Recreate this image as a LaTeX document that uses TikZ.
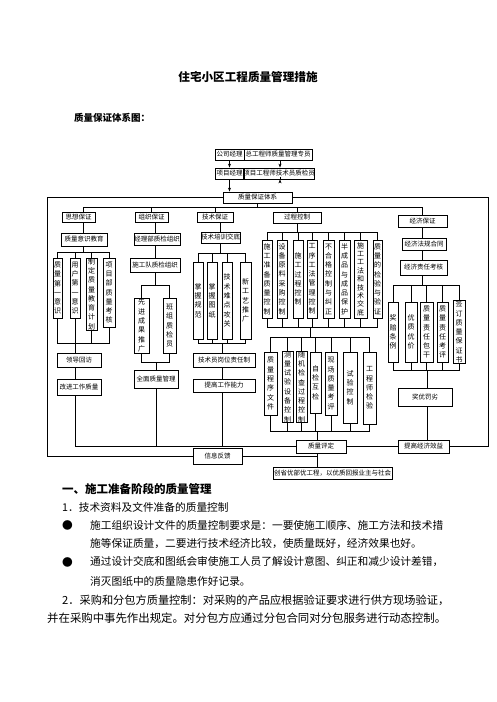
\documentclass[tikz,border=0pt]{standalone}
\usepackage{fontspec}
\setmainfont{Noto Sans CJK SC}
\usetikzlibrary{arrows.meta}
\def\vstack#1{\vstackA#1\relax}
\def\vstackA#1{\ifx#1\relax\else#1\par\expandafter\vstackA\fi}
\tikzset{
  bx/.style={draw, line width=0.8pt, inner sep=0pt, font=\fontsize{6.5}{7}\selectfont},
  vbx/.style={bx, text width=8pt, align=center, font=\fontsize{7}{9.3}\selectfont},
  ln/.style={line width=0.8pt},
  arr/.style={ln, -{Stealth[length=4pt,width=3pt]}},
  txt/.style={anchor=west, inner sep=0pt}
}
\newcommand\hb[6]{\node[bx,minimum width={(#4-#2)*1pt},minimum height={(#5-#3)*1pt}] (#1) at ({(#2+#4)/2},{(#3+#5)/2}) {#6};}
\newcommand\vb[6]{\node[vbx,minimum width={(#4-#2)*1pt},minimum height={(#5-#3)*1pt}] (#1) at ({(#2+#4)/2},{(#3+#5)/2}) {\vstack{#6}};}
\begin{document}
\begin{tikzpicture}[x=1pt,y=-1pt]
\fill[white] (0,0) rectangle (496,702);
\useasboundingbox (0,0) rectangle (496,702);
% titles
\node[inner sep=0pt] (title) at (248,77) {\fontsize{11.6}{12}\selectfont\bfseries 住宅小区工程质量管理措施};
\node[txt] (sub) at (74,118) {\fontsize{9.5}{10}\selectfont\bfseries 质量保证体系图：};
% top boxes
\hb{n1}{215}{149}{244}{160}{公司经理}
\hb{n2}{244}{149}{312}{160}{总工程师质量管理专员}
\hb{n3}{215}{168}{244}{179}{项目经理}
\hb{n4}{244}{168}{314}{179}{项目工程师技术员质检员}
\hb{n5}{223}{192}{292}{203}{质量保证体系}
\draw[arr] (n1.south) -- (n3.north);
\draw[arr] (n2.south -| 280,0) -- (n4.north -| 280,0);
\draw[arr] (n3.south) -- (n3.south |- n5.north);
\draw[arr] (n4.south -| 280,0) -- (n4.south -| 280,0 |- n5.north);
% named levels
\coordinate (b0) at (0,207);
% headers
\hb{h1}{62}{212}{95}{222}{思想保证}
\hb{h2}{135}{212}{168}{222}{组织保证}
\hb{h3}{197}{212}{233}{222}{技术保证}
\hb{h4}{273}{212}{321}{223}{过程控制}
\hb{h5}{398}{215}{447}{227}{经济保证}
\draw[ln] (n5.south) -- (n5.south |- b0);
\draw[ln] (h1.north -| 83,0) -- (83,207) -- (422,207) -- (h5.north -| 422,0);
\draw[ln] (h2.north) -- (h2.north |- b0);
\draw[ln] (h3.north) -- (h3.north |- b0);
\draw[ln] (h4.north) -- (h4.north |- b0);
% column 1
\hb{e1}{61}{233}{107}{246}{质量意识教育}
\draw[ln] (h1.south -| 83,0) -- (e1.north -| 83,0);
\vb{a1}{53}{258}{62}{318}{质量第一意识}
\vb{a2}{70}{258}{80}{318}{用户第一意识}
\vb{a3}{86}{258}{97}{330}{制定质量教育计划}
\vb{a4}{103}{258}{115}{327}{项目部质量考核}
\coordinate (b1) at (0,252);
\coordinate (b2) at (0,343);
\draw[ln] (e1.south -| 83,0) -- (83,252);
\draw[ln] (a1.north) |- (a4.north |- b1) -- (a4.north);
\draw[ln] (a2.north) -- (a2.north |- b1);
\draw[ln] (a3.north) -- (a3.north |- b1);
\draw[ln] (a1.south) |- (a4.south |- b2) -- (a4.south);
\draw[ln] (a2.south) -- (a2.south |- b2);
\draw[ln] (a3.south) -- (a3.south |- b2);
\hb{f1}{57}{353}{101}{367}{领导回访}
\hb{g1}{57}{379}{101}{395}{改进工作质量}
\draw[ln] (f1.north -| 75,0) -- (75,343);
\draw[ln] (f1.south -| 75,0) -- (g1.north -| 75,0);
% column 2
\hb{e2}{134}{233}{180}{245}{经理部质检组织}
\hb{e2b}{130}{258}{180}{272}{施工队质检组织}
\draw[ln] (h2.south -| 155,0) -- (e2.north -| 155,0);
\draw[ln] (e2.south -| 155,0) -- (e2b.north -| 155,0);
\vb{c1}{134}{298}{149}{353}{先进成果推广}
\vb{c2}{163}{298}{176}{353}{班组质检员}
\coordinate (b3) at (0,285);
\coordinate (b4) at (0,362);
\draw[ln] (e2b.south -| 155,0) -- (155,285);
\draw[ln] (c1.north) |- (c2.north |- b3) -- (c2.north);
\draw[ln] (c1.south) |- (c2.south |- b4) -- (c2.south);
\hb{f2}{134}{370}{178}{388}{全面质量管理}
\draw[ln] (156,362) -- (f2.north -| 156,0);
% column 3
\hb{e3}{201}{232}{240}{243}{技术培训交底}
\draw[ln] (h3.south -| 220,0) -- (e3.north -| 220,0);
\vb{d1}{193}{262}{203}{339}{掌握规范}
\vb{d2}{207}{262}{217}{339}{掌握图纸}
\vb{d3}{222}{262}{232}{339}{技术难点攻关}
\vb{d4}{240}{262}{251}{339}{新工艺推广}
\coordinate (b5) at (0,253);
\coordinate (b6) at (0,343);
\draw[ln] (e3.south -| 220,0) -- (220,253);
\draw[ln] (d1.north) |- (d4.north |- b5) -- (d4.north);
\draw[ln] (d2.north) -- (d2.north |- b5);
\draw[ln] (d3.north) -- (d3.north |- b5);
\draw[ln] (d1.south) |- (d4.south |- b6) -- (d4.south);
\draw[ln] (d2.south) -- (d2.south |- b6);
\draw[ln] (d3.south) -- (d3.south |- b6);
\hb{f3}{193}{353}{255}{367}{技术员岗位责任制}
\hb{g3}{193}{379}{255}{392}{提高工作能力}
\draw[ln] (222,343) -- (f3.north -| 222,0);
\draw[ln] (f3.south -| 222,0) -- (g3.north -| 222,0);
% column 4
\coordinate (b7) at (0,232);
\coordinate (b8) at (0,327);
\coordinate (b9) at (0,337);
\coordinate (b10) at (0,431);
\vb{p1}{262}{240}{272}{318}{施工准备质量控制}
\vb{p2}{277}{240}{287}{318}{设备原料采购控制}
\vb{p3}{293}{240}{303}{318}{施工过程控制}
\vb{p4}{307}{240}{317}{318}{工序工法管理控制}
\vb{p5}{323}{240}{334}{318}{不合格控制与纠正}
\vb{p6}{339}{240}{350}{318}{半成品与成品保护}
\node[vbx,minimum width=13pt,minimum height=78pt,font=\fontsize{7}{8.4}\selectfont] (p7) at (360.5,279) {\vstack{施工工法和技术交底}};
\vb{p8}{373}{240}{382}{318}{质量的检验与验证}
\draw[ln] (h4.south) -- (h4.south |- b7);
\draw[ln] (p1.north) |- (p8.north |- b7) -- (p8.north);
\foreach \n in {p2,p3,p4,p5,p6,p7} \draw[ln] (\n.north) -- (\n.north |- b7);
\draw[ln] (p1.south) |- (p8.south |- b8) -- (p8.south);
\foreach \n in {p2,p3,p4,p5,p6,p7} \draw[ln] (\n.south) -- (\n.south |- b8);
\vb{q1}{264}{352}{277}{415}{质量程序文件}
\vb{q2}{282}{352}{293}{422}{测量试验设备控制}
\vb{q3}{296}{352}{307}{422}{随机检查过程控制}
\vb{q4}{310}{352}{321}{413}{自检互检}
\vb{q5}{325}{352}{337}{415}{现场质量考评}
\vb{q6}{343}{352}{357}{423}{试验控制}
\vb{q7}{363}{352}{376}{424}{工程师检验}
\draw[ln] (310,327) -- (310,337);
\draw[ln] (q1.north) |- (q7.north |- b9) -- (q7.north);
\foreach \n in {q2,q3,q4,q5,q6} \draw[ln] (\n.north) -- (\n.north |- b9);
\draw[ln] (q1.south) |- (q7.south |- b10) -- (q7.south);
\foreach \n in {q2,q3,q4,q5,q6} \draw[ln] (\n.south) -- (\n.south |- b10);
% column 5
\hb{e5}{402}{238}{446}{250}{经济法规合同}
\hb{e5b}{400}{260}{447}{275}{经济责任考核}
\draw[ln] (h5.south -| 422,0) -- (e5.north -| 422,0);
\draw[ln] (e5.south -| 422,0) -- (e5b.north -| 422,0);
\coordinate (b11) at (0,285);
\coordinate (b12) at (0,370);
\vb{r1}{388}{302}{398}{362}{奖赔条例}
\vb{r2}{405}{302}{417}{362}{优质优价}
\vb{r3}{420}{302}{433}{362}{质量责任包干}
\vb{r4}{437}{302}{448}{362}{质量责任考评}
\vb{r5}{453}{302}{465}{362}{签订质量保证书}
\draw[ln] (e5b.south -| 422,0) -- (422,285);
\draw[ln] (r1.north) |- (r5.north |- b11) -- (r5.north);
\foreach \n in {r2,r3,r4} \draw[ln] (\n.north) -- (\n.north |- b11);
\draw[ln] (r1.south) |- (r5.south |- b12) -- (r5.south);
\foreach \n in {r2,r3,r4} \draw[ln] (\n.south) -- (\n.south |- b12);
\hb{s5}{398}{388}{452}{406}{奖优罚劣}
\draw[ln] (427,370) -- (s5.north -| 427,0);
% bottom
\hb{z1}{296}{440}{346}{453}{质量评定}
\hb{z2}{398}{440}{449}{453}{提高经济效益}
\hb{z3}{193}{448}{242}{464}{信息反馈}
\hb{z4}{273}{467}{392}{479}{创省优部优工程，以优质回报业主与社会}
\draw[ln] (317,431) -- (z1.north -| 317,0);
\draw[ln] (z1.south -| 317,0) -- (z4.north -| 317,0);
\draw[ln] (z3.east) -- (z3.east -| 317,0);
\draw[ln] (z1.east) -- (z2.west);
\draw[ln] (s5.south -| 427,0) -- (z2.north -| 427,0);
\draw[ln] (g1.south -| 75,0) |- (z1.west);
\draw[ln] (f2.south -| 156,0) -- (156,446.5);
\draw[ln] (g3.south -| 222,0) -- (222,446.5);
% frame
\draw[ln] (n5.west) -- (47,197.5) |- (z3.west);
\draw[ln] (n5.east) -- (488,197.5) |- (z2.east);
% body text
\node[txt] (t1) at (62,489) {\fontsize{11.5}{12}\selectfont\bfseries 一、施工准备阶段的质量管理};
\node[txt] (t2) at (62,507) {\fontsize{10.7}{12}\selectfont 1．技术资料及文件准备的质量控制};
\node[txt] (t3b) at (62,525) {\fontsize{10.7}{12}\selectfont ●};
\node[txt] (t3) at (90,525) {\fontsize{10.7}{12}\selectfont 施工组织设计文件的质量控制要求是：一要使施工顺序、施工方法和技术措};
\node[txt] (t4) at (90,544) {\fontsize{10.7}{12}\selectfont 施等保证质量，二要进行技术经济比较，使质量既好，经济效果也好。};
\node[txt] (t5b) at (62,562) {\fontsize{10.7}{12}\selectfont ●};
\node[txt] (t5) at (90,562) {\fontsize{10.7}{12}\selectfont 通过设计交底和图纸会审使施工人员了解设计意图、纠正和减少设计差错，};
\node[txt] (t6) at (90,581) {\fontsize{10.7}{12}\selectfont 消灭图纸中的质量隐患作好记录。};
\node[txt] (t7) at (62,600) {\fontsize{11.2}{12}\selectfont 2．采购和分包方质量控制：对采购的产品应根据验证要求进行供方现场验证，};
\node[txt] (t8) at (47,618) {\fontsize{11.4}{12}\selectfont 并在采购中事先作出规定。对分包方应通过分包合同对分包服务进行动态控制。};
\end{tikzpicture}
\end{document}
